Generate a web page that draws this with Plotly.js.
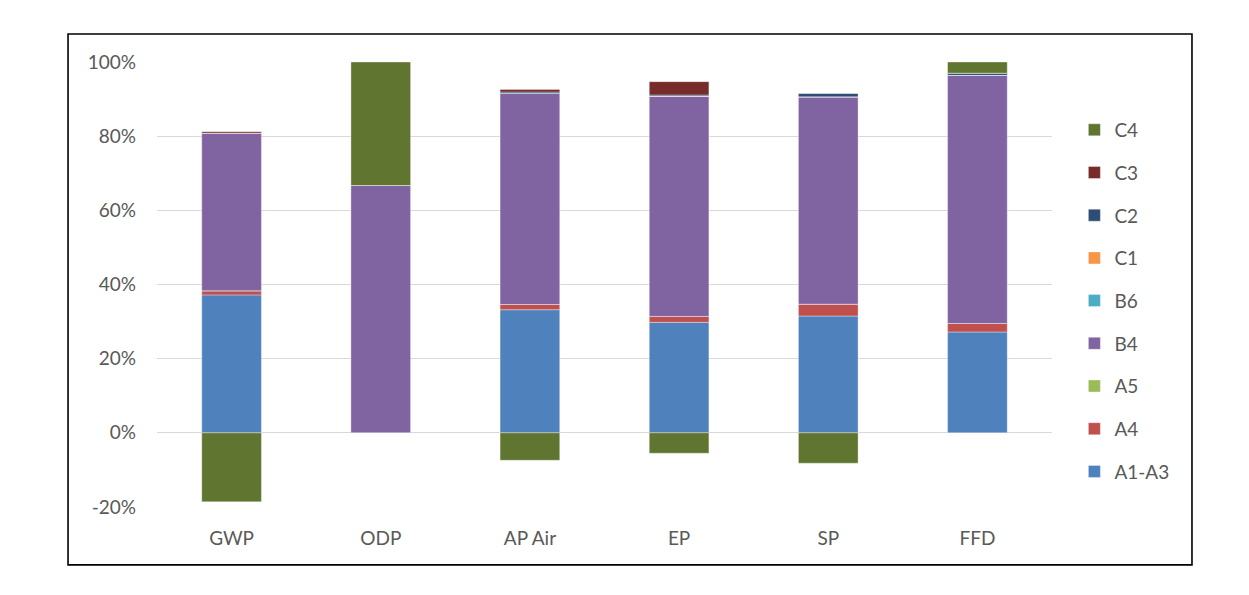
<!DOCTYPE html>
<html>
<head>
<meta charset="utf-8">
<script src="https://cdn.plot.ly/plotly-3.0.1.min.js"></script>
<style>
  html, body { margin: 0; padding: 0; background: #fff; }
  #chart { width: 1249px; height: 595px; }
</style>
</head>
<body>
<div id="chart"></div>
<script>
// impact categories on the x axis
let categories = ['GWP', 'ODP', 'AP Air', 'EP', 'SP', 'FFD'];

// share of each life cycle stage, in %
let a1a3 = [37.2, 0, 33.2, 29.8, 31.5, 27.2];
let a4   = [1.1, 0, 1.4, 1.6, 3.2, 2.3];
let a5   = [0, 0, 0, 0, 0, 0];
let b4   = [42.5, 66.7, 56.9, 59.4, 55.9, 66.9];
let b6   = [0, 0, 0, 0, 0, 0];
let c1   = [0, 0, 0, 0, 0, 0];
let c2   = [0, 0, 0.4, 0.3, 0.9, 0.6];
let c3   = [0.4, 0, 0.7, 3.6, 0.1, 0];
let c4   = [-18.6, 33.3, -7.4, -5.5, -8.2, 3.0];

let yTicks = [-20, 0, 20, 40, 60, 80, 100];
let yTickText = ['-20%', '0%', '20%', '40%', '60%', '80%', '100%'];

let series = [
    {name: 'A1-A3', y: a1a3, color: '#4f81bd'},
    {name: 'A4',    y: a4,   color: '#c0504d'},
    {name: 'A5',    y: a5,   color: '#9bbb59'},
    {name: 'B4',    y: b4,   color: '#8064a2'},
    {name: 'B6',    y: b6,   color: '#4bacc6'},
    {name: 'C1',    y: c1,   color: '#f79646'},
    {name: 'C2',    y: c2,   color: '#2c4d75'},
    {name: 'C3',    y: c3,   color: '#772c2a'},
    {name: 'C4',    y: c4,   color: '#5f7530'},
];

// legend is listed top-down from C4 to A1-A3, like the stack
var data = series.map(function(s, i) {
    return {
        type: 'bar',
        name: s.name,
        legendgroup: s.name,
        legendrank: 100 - i,
        x: categories,
        y: s.y,
        marker: {
            color: s.color,
            line: {color: 'rgba(255,255,255,0.6)', width: 0.6}
        },
        hovertemplate: '%{x}<br>' + s.name + ': %{y}%<extra></extra>'
    };
});

var font = {family: 'Lato, "Open Sans", sans-serif', size: 19, color: '#595959'};

var layout = {
    width: 1249,
    height: 595,
    autosize: false,
    paper_bgcolor: '#ffffff',
    plot_bgcolor: '#ffffff',
    font: font,
    barmode: 'relative',
    bargap: 0.6,
    margin: {l: 157, r: 197, t: 62, b: 88},
    showlegend: true,
    legend: {
        x: 1.025,
        xanchor: 'left',
        y: 0.89,
        yanchor: 'top',
        traceorder: 'grouped',
        tracegroupgap: 15,
        font: font,
        itemwidth: 30,
        bgcolor: 'rgba(0,0,0,0)'
    },
    xaxis: {
        type: 'category',
        showgrid: false,
        showline: false,
        zeroline: false,
        ticks: '',
        ticklabelstandoff: 18,
        tickfont: font
    },
    yaxis: {
        range: [-20, 100],
        tickmode: 'array',
        tickvals: yTicks,
        ticktext: yTickText,
        showgrid: true,
        gridcolor: '#d9d9d9',
        gridwidth: 1.3,
        zeroline: true,
        zerolinecolor: '#d9d9d9',
        zerolinewidth: 1.3,
        showline: false,
        ticks: '',
        ticklabelstandoff: 20,
        tickfont: font
    },
    shapes: [{
        type: 'rect',
        xref: 'paper', yref: 'paper',
        x0: -0.0994, x1: 1.1564,
        y0: -0.130, y1: 1.063,
        line: {color: '#000000', width: 1.6},
        fillcolor: 'rgba(0,0,0,0)',
        layer: 'above'
    }]
};

var config = {
    responsive: false,
    displayModeBar: false
};

Plotly.newPlot('chart', data, layout, config);
</script>
</body>
</html>
